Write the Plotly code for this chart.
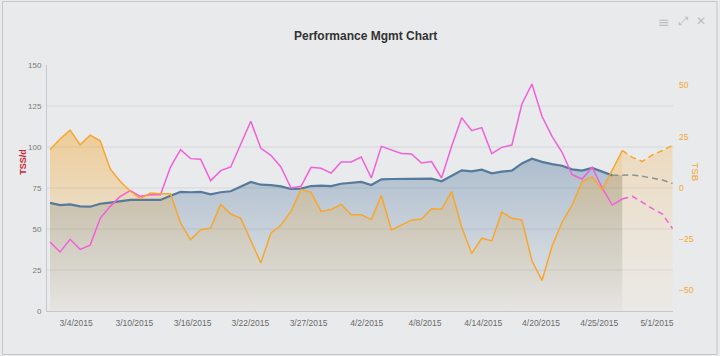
import plotly.graph_objects as go

# ---------------- data ----------------
ctl = [65.9, 64.6, 65.0, 63.8, 63.6, 65.4, 66.1, 67.1, 67.7, 67.7,
       67.7, 67.7, 70.3, 72.6, 72.4, 72.6, 71.1, 72.4, 73.0, 76.0,
       78.7, 77.0, 76.8, 76.0, 74.4, 74.6, 76.2, 76.4, 76.2, 77.6,
       78.0, 78.7, 76.8, 80.3, 80.5, 80.5, 80.9, 80.5, 80.7, 79.1,
       82.7, 85.8, 85.2, 86.2, 83.9, 85.0, 85.6, 90.0, 92.9, 90.9,
       89.6, 88.6, 86.4, 85.6, 87.2, 85.0, 82.7, 82.7, 82.9, 82.1,
       81.1, 79.9, 77.8]
atl = [42.1, 36.0, 43.7, 37.6, 40.2, 56.5, 63.8, 69.9, 73.4, 69.9,
       70.9, 70.9, 87.8, 98.4, 92.9, 92.5, 79.5, 85.6, 87.8, 101.4,
       115.7, 99.2, 94.9, 87.8, 75.0, 76.0, 87.6, 87.0, 84.1, 90.9,
       90.9, 93.9, 81.1, 100.4, 98.4, 96.1, 95.7, 90.2, 91.1, 81.1,
       100.4, 117.9, 110.0, 111.8, 95.9, 99.8, 101.2, 126.2, 138.4, 118.7,
       106.5, 96.8, 83.1, 80.5, 87.6, 75.0, 64.6, 68.3, 69.9, 66.3,
       62.4, 59.1, 50.2]
tsb = [18.7, 23.9, 28.2, 21.1, 25.8, 23.0, 9.3, 3.2, -1.6, -5.2,
       -2.4, -2.8, -2.8, -17.0, -25.3, -20.4, -19.5, -8.0, -12.7, -14.8,
       -25.6, -36.5, -21.9, -18.2, -11.4, -0.8, -2.1, -11.4, -10.5, -8.0,
       -13.1, -13.1, -15.4, -3.7, -20.4, -18.0, -15.7, -15.1, -10.1, -10.4,
       -1.6, -19.0, -32.0, -24.5, -25.8, -11.8, -14.8, -15.6, -35.5, -45.1,
       -28.4, -16.7, -8.4, 3.1, 5.4, -0.8, 8.9, 18.3, 14.9, 13.0,
       16.1, 18.3, 20.8]
days = list(range(len(ctl)))          # one point per day
FUTURE_START = 57                     # first planned (future) day

tick_labels = ["3/4/2015", "3/10/2015", "3/16/2015", "3/22/2015", "3/27/2015",
               "4/2/2015", "4/8/2015", "4/14/2015", "4/20/2015", "4/25/2015", "5/1/2015"]
tick_pos = [2.6, 8.4, 14.2, 19.95, 25.75, 31.55, 37.35, 43.15, 48.9, 54.7, 60.45]
left_ticks = [0, 25, 50, 75, 100, 125, 150]
right_ticks = [-50, -25, 0, 25, 50]
grid_vals = [25, 50, 75, 100, 125]

LEFT_RANGE = [0, 150]
TSB_RANGE = [-60, 60]

# ---------------- style ----------------
BG = "#e9eaec"
FONT = "Liberation Sans, Arial, sans-serif"
ORANGE = "#f6a72e"
PINK = "#f25fd9"
BLUE = "#557a9b"
FUT_GRAY = "#8c918e"

W, H = 720, 356
L, R, T, B = 47, 47, 65, 45
PW, PH = W - L - R, H - T - B


def px(x):
    return (x - L) / PW


def py(y):
    return (H - B - y) / PH


fs = FUTURE_START
nf = len(days) - fs
fig = go.Figure()

# TSB area (past) – filled down to the bottom of the TSB axis
fig.add_trace(go.Scatter(
    x=days[:fs + 1], y=[TSB_RANGE[0]] * (fs + 1), yaxis="y2", mode="lines",
    line=dict(width=0, color="rgba(0,0,0,0)"), hoverinfo="skip", showlegend=False))
fig.add_trace(go.Scatter(
    x=days[:fs + 1], y=tsb[:fs + 1], yaxis="y2", mode="lines", fill="tonexty",
    line=dict(width=0, color="rgba(0,0,0,0)"),
    fillcolor="rgba(245,170,50,0.25)",
    fillgradient=dict(type="vertical", start=-60, stop=30,
                      colorscale=[[0, "rgba(240,185,90,0.06)"],
                                  [0.5, "rgba(242,175,65,0.22)"],
                                  [1, "rgba(245,168,45,0.46)"]]),
    hoverinfo="skip", showlegend=False))
# TSB area (future, lighter)
fig.add_trace(go.Scatter(
    x=days[fs:], y=[TSB_RANGE[0]] * nf, yaxis="y2", mode="lines",
    line=dict(width=0, color="rgba(0,0,0,0)"), hoverinfo="skip", showlegend=False))
fig.add_trace(go.Scatter(
    x=days[fs:], y=tsb[fs:], yaxis="y2", mode="lines", fill="tonexty",
    line=dict(width=0, color="rgba(0,0,0,0)"),
    fillcolor="rgba(245,200,130,0.2)",
    fillgradient=dict(type="vertical", start=-60, stop=30,
                      colorscale=[[0, "rgba(245,225,190,0.14)"],
                                  [0.5, "rgba(245,200,130,0.22)"],
                                  [1, "rgba(245,180,80,0.36)"]]),
    hoverinfo="skip", showlegend=False))

# CTL area (past)
fig.add_trace(go.Scatter(
    x=days[:fs + 1], y=ctl[:fs + 1], yaxis="y", mode="lines", fill="tozeroy",
    line=dict(width=0, color="rgba(0,0,0,0)"),
    fillgradient=dict(type="vertical", start=0, stop=95,
                      colorscale=[[0, "rgba(70,110,150,0.02)"],
                                  [0.3, "rgba(70,110,150,0.13)"],
                                  [1, "rgba(65,108,150,0.36)"]]),
    hoverinfo="skip", showlegend=False))

# Lines on top (overlay axes with identical ranges)
fig.add_trace(go.Scatter(x=days[:fs], y=ctl[:fs], yaxis="y3", mode="lines",
                         line=dict(color=BLUE, width=2.2), name="CTL", showlegend=False))
fig.add_trace(go.Scatter(x=days[fs - 1:], y=ctl[fs - 1:], yaxis="y3", mode="lines",
                         line=dict(color=FUT_GRAY, width=1.5, dash="6px,4px"),
                         name="CTL plan", showlegend=False))
fig.add_trace(go.Scatter(x=days[:fs + 1], y=atl[:fs + 1], yaxis="y3", mode="lines",
                         line=dict(color=PINK, width=1.5), name="ATL", showlegend=False))
fig.add_trace(go.Scatter(x=days[fs:], y=atl[fs:], yaxis="y3", mode="lines",
                         line=dict(color=PINK, width=1.5, dash="6px,4px"),
                         name="ATL plan", showlegend=False))
fig.add_trace(go.Scatter(x=days[:fs + 1], y=tsb[:fs + 1], yaxis="y4", mode="lines",
                         line=dict(color=ORANGE, width=1.5), name="TSB", showlegend=False))
fig.add_trace(go.Scatter(x=days[fs:], y=tsb[fs:], yaxis="y4", mode="lines",
                         line=dict(color=ORANGE, width=1.5, dash="6px,4px"),
                         name="TSB plan", showlegend=False))

shapes = [dict(type="line", xref="paper", x0=0, x1=1, yref="y", y0=v, y1=v,
               line=dict(color="#d4d6d9", width=1), layer="below") for v in grid_vals]
shapes.append(dict(type="rect", xref="paper", yref="paper",
                   x0=px(2.5), x1=px(717), y0=py(354.5), y1=py(1.5),
                   line=dict(color="#c6c7c9", width=1), fillcolor="rgba(0,0,0,0)"))

annotations = [
    dict(text="<b>Performance Mgmt Chart</b>", x=px(365), y=py(27), xref="paper", yref="paper",
         showarrow=False, font=dict(size=12, color="#333333", family=FONT)),
    dict(text="<b>TSS/d</b>", x=px(15.7), y=py(162), xref="paper", yref="paper", textangle=-90,
         showarrow=False, font=dict(size=9, color="#c8283a", family=FONT)),
    dict(text="TSB", x=px(703), y=py(171), xref="paper", yref="paper", textangle=90,
         showarrow=False, font=dict(size=9.5, color=ORANGE, family=FONT)),
    dict(text="≡", x=px(672), y=py(12), xref="paper", yref="paper",
         showarrow=False, font=dict(size=14, color="#bdbdbd", family="DejaVu Sans")),
    dict(text="⤢", x=px(691), y=py(12), xref="paper", yref="paper",
         showarrow=False, font=dict(size=12, color="#bdbdbd", family="DejaVu Sans")),
    dict(text="✕", x=px(708), y=py(12), xref="paper", yref="paper",
         showarrow=False, font=dict(size=12, color="#bdbdbd", family="DejaVu Sans")),
]

fig.update_layout(
    width=W, height=H, margin=dict(l=L, r=R, t=T, b=B, autoexpand=False),
    paper_bgcolor=BG, plot_bgcolor=BG,
    font=dict(family=FONT),
    showlegend=False,
    xaxis=dict(range=[-0.3, 62.05], tickmode="array", tickvals=tick_pos, ticktext=tick_labels,
               showgrid=False, zeroline=False, showline=True, linecolor="#c6c8cb", linewidth=1,
               ticks="", ticklabelstandoff=4, tickfont=dict(size=8.5, color="#6a6a6a")),
    yaxis=dict(range=LEFT_RANGE, tickmode="array", tickvals=left_ticks,
               showgrid=False, zeroline=False, showline=True, linecolor="#c6c8cb", linewidth=1,
               ticks="", ticklabelstandoff=3, tickfont=dict(size=8, color="#7a7a7a")),
    yaxis2=dict(range=TSB_RANGE, overlaying="y", side="right", tickmode="array", tickvals=right_ticks,
                showgrid=False, zeroline=False, showline=False, ticks="", ticklabelstandoff=5,
                tickfont=dict(size=8.5, color=ORANGE)),
    yaxis3=dict(range=LEFT_RANGE, overlaying="y", visible=False),
    yaxis4=dict(range=TSB_RANGE, overlaying="y", visible=False),
    shapes=shapes,
    annotations=annotations,
)

fig.write_html("out.html", config={"displayModeBar": False},
               post_script="document.body.style.margin='0px';")
